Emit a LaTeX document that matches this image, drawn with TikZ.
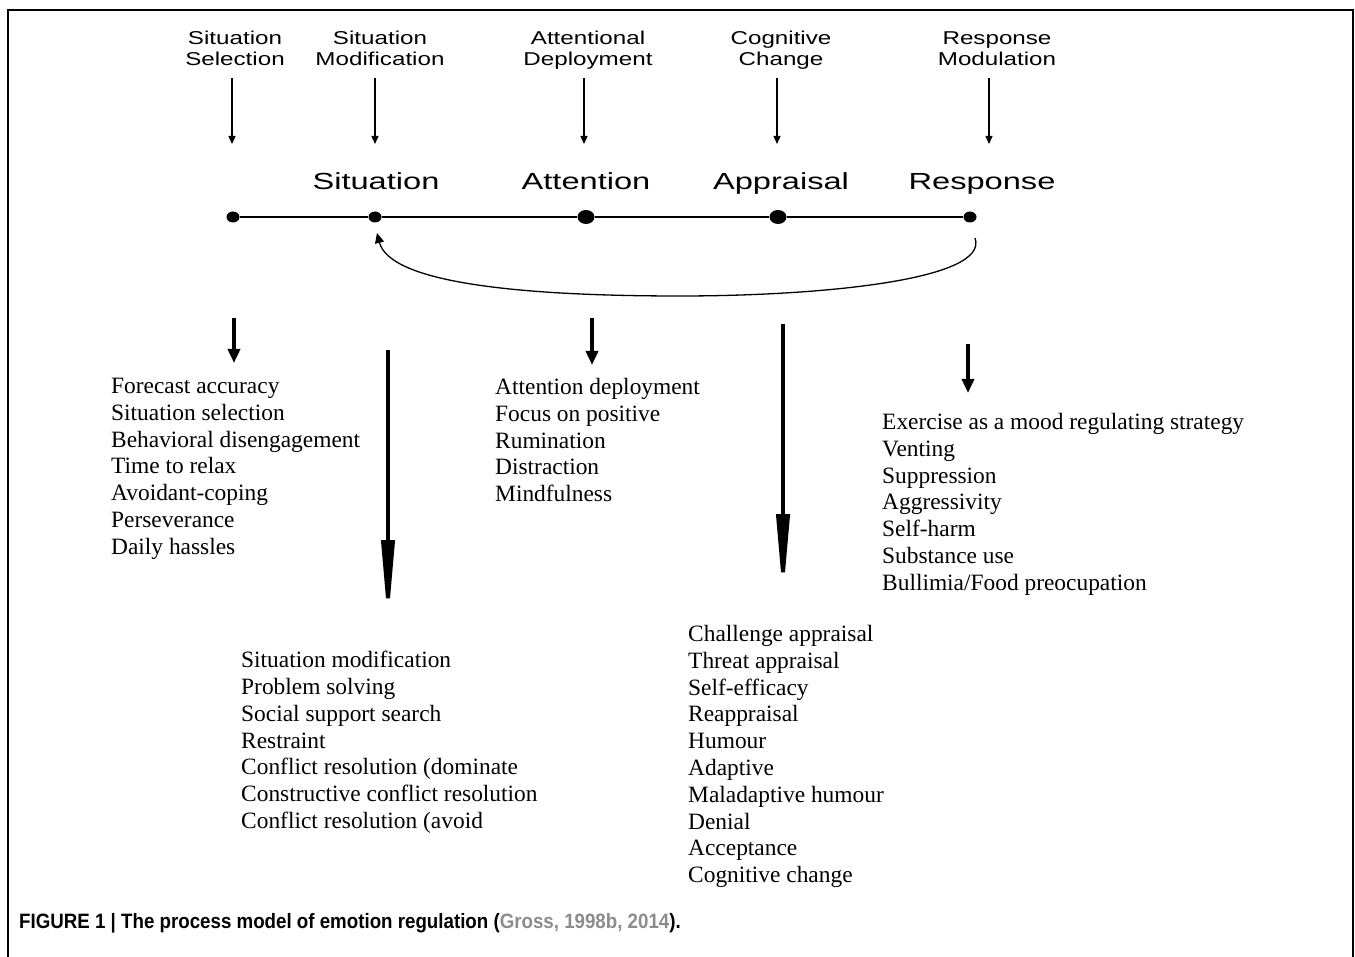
\documentclass[tikz,border=0pt]{standalone}
\usepackage{fontspec}
\setmainfont{Liberation Serif}
\newfontfamily\hdfont{Liberation Sans}[FakeStretch=1.3]
\newfontfamily\bigfont{Liberation Sans}[FakeStretch=1.4]
\newfontfamily\capfont{Liberation Sans}[FakeStretch=0.9]
\usetikzlibrary{arrows.meta,shapes.geometric}
\definecolor{capgray}{RGB}{140,140,140}
\begin{document}
\begin{tikzpicture}[x=1pt,y=-1pt,
  hd/.style={font=\hdfont\fontsize{18.6}{21}\selectfont, align=center, inner sep=0, anchor=north},
  big/.style={font=\bigfont\fontsize{23.3}{28}\selectfont, inner sep=0, anchor=base},
  item/.style={font=\fontsize{23.4}{26.8}\selectfont, align=left, inner sep=0, anchor=north west},
  smalldot/.style={ellipse, fill, minimum width=13, minimum height=11, inner sep=0},
  bigdot/.style={ellipse, fill, minimum width=17, minimum height=14, inner sep=0},
  thinarrow/.style={line width=1.3, -{Triangle[width=7,length=8]}},
  thickshort/.style={line width=4, -{Triangle[width=12,length=14]}},
  thicklong/.style={line width=4, -{Triangle[width=13,length=84]}},
  frameline/.style={line width=2.5}
]
\useasboundingbox (0,0) rectangle (1355,957);
% frame (open at bottom)
\draw[frameline] (8,957) -- (8,10) -- (1353,10) -- (1353,957);

% header labels
\node[hd] (h1) at (235,31) {Situation\\Selection};
\node[hd] (h2) at (380,31) {Situation\\Modification};
\node[hd] (h3) at (588,31) {Attentional\\Deployment};
\node[hd] (h4) at (781,31) {Cognitive\\Change};
\node[hd] (h5) at (997,31.6) {Response\\Modulation};

% thin arrows
\foreach \i/\x in {1/232,2/375,3/584,4/777,5/989}{
  \coordinate (ta\i) at (\x,78);
  \coordinate (tb\i) at (\x,144);
  \draw[thinarrow] (ta\i) -- (tb\i);
}

% stage labels
\node[big] (s2) at (376,190) {Situation};
\node[big] (s3) at (586,190) {Attention};
\node[big] (s4) at (781,190) {Appraisal};
\node[big] (s5) at (982,190) {Response};

% timeline
\node[smalldot] (d1) at (233,217) {};
\node[smalldot] (d2) at (375,217) {};
\node[bigdot] (d3) at (586,217) {};
\node[bigdot] (d4) at (778,217) {};
\node[smalldot] (d5) at (970,217) {};
\draw[line width=1.3] (d1) -- (d2) -- (d3) -- (d4) -- (d5);

% feedback arrow
\coordinate (fs) at (975,238);
\coordinate (fe) at (377,233);
\draw[line width=1.3, -{Triangle[width=9,length=10]}] (fs) .. controls (990,280) and (820,296) .. (680,296)
  .. controls (520,296) and (390,283) .. (fe);

% thick arrows
\coordinate (a1s) at (234,318); \coordinate (a1e) at (234,363);
\coordinate (a2s) at (388,350); \coordinate (a2e) at (388,624);
\coordinate (a3s) at (592,318); \coordinate (a3e) at (592,365);
\coordinate (a4s) at (783,324); \coordinate (a4e) at (783,598);
\coordinate (a5s) at (968,344); \coordinate (a5e) at (968,393);
\draw[thickshort] (a1s) -- (a1e);
\draw[thicklong] (a2s) -- (a2e);
\draw[thickshort] (a3s) -- (a3e);
\draw[thicklong] (a4s) -- (a4e);
\draw[thickshort] (a5s) -- (a5e);

% lists
\node[item] (l1) at (111,378) {Forecast accuracy\\Situation selection\\Behavioral disengagement\\Time to relax\\Avoidant-coping\\Perseverance\\Daily hassles};
\node[item] (l2) at (241,651) {Situation modification\\Problem solving\\Social support search\\Restraint\\Conflict resolution (dominate\\Constructive conflict resolution\\Conflict resolution (avoid};
\node[item] (l3) at (495,378) {Attention deployment\\Focus on positive\\Rumination\\Distraction\\Mindfulness};
\node[item] (l4) at (688,625) {Challenge appraisal\\Threat appraisal\\Self-efficacy\\Reappraisal\\Humour\\Adaptive\\Maladaptive humour\\Denial\\Acceptance\\Cognitive change};
\node[item] (l5) at (882,413) {Exercise as a mood regulating strategy\\Venting\\Suppression\\Aggressivity\\Self-harm\\Substance use\\Bullimia/Food preocupation};

% caption
\node[anchor=base west, inner sep=0, font=\capfont\bfseries\fontsize{20.8}{24}\selectfont] (cap) at (19,928.5)
  {FIGURE 1 | The process model of emotion regulation ({\color{capgray}Gross, 1998b, 2014}).};
\end{tikzpicture}
\end{document}
